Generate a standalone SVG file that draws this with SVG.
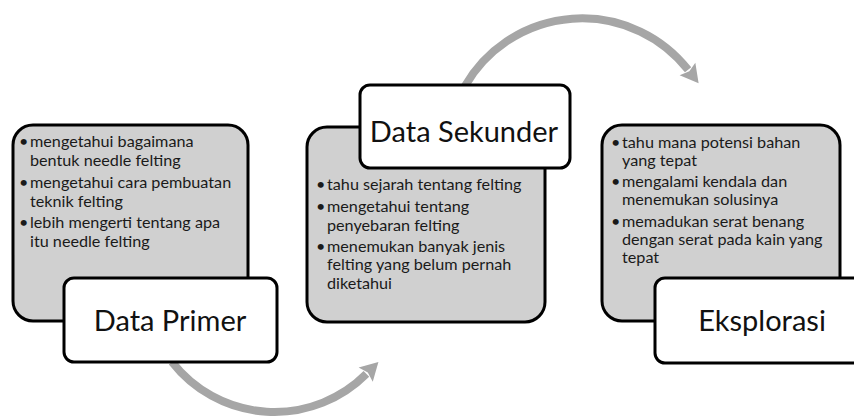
<svg xmlns="http://www.w3.org/2000/svg" width="854" height="416" viewBox="0 0 854 416">
<defs>
<style>
.card{fill:#d0d0d0;stroke:#000;stroke-width:3}
.lbl{fill:#fff;stroke:#000;stroke-width:3}
.t{font-family:Lato,"Liberation Sans",sans-serif;font-size:16.2px;fill:#1a1a1a}
.h{font-family:Lato,"Liberation Sans",sans-serif;font-size:29px;fill:#111;text-anchor:middle}
.arc{fill:none;stroke:#a6a6a6;stroke-width:8}
</style>
<marker id="ah" markerUnits="userSpaceOnUse" markerWidth="24" markerHeight="24" viewBox="-2 -12 22 24" refX="0" refY="0" orient="auto">
<path d="M-1,-10 L17,0 L-1,10 L2,0 Z" fill="#a6a6a6"/>
</marker>
</defs>
<rect width="854" height="416" fill="#fff"/>
<g id="connectors">
<path class="arc" d="M172,362 A130,130 0 0 0 366.4,373.9" marker-end="url(#ah)"/>
<path class="arc" d="M465,86 A135,135 0 0 1 688.1,69.8" marker-end="url(#ah)"/>
</g>
<g id="node-data-primer">
<rect class="card" x="13" y="125" width="235" height="196" rx="20"/>
<text class="t"><tspan x="19" y="147">•</tspan><tspan x="30" y="147">mengetahui bagaimana</tspan><tspan x="30" y="166">bentuk needle felting</tspan><tspan x="19" y="188">•</tspan><tspan x="30" y="188">mengetahui cara pembuatan</tspan><tspan x="30" y="207">teknik felting</tspan><tspan x="19" y="228">•</tspan><tspan x="30" y="228">lebih mengerti tentang apa</tspan><tspan x="30" y="247">itu needle felting</tspan></text>
<rect class="lbl" x="64" y="278" width="213" height="84" rx="10"/>
<text class="h" x="170" y="331">Data Primer</text>
</g>
<g id="node-data-sekunder">
<rect class="card" x="307" y="127" width="238" height="195" rx="20"/>
<text class="t"><tspan x="316" y="190">•</tspan><tspan x="327" y="190">tahu sejarah tentang felting</tspan><tspan x="316" y="212">•</tspan><tspan x="327" y="212">mengetahui tentang</tspan><tspan x="327" y="231">penyebaran felting</tspan><tspan x="316" y="252">•</tspan><tspan x="327" y="252">menemukan  banyak  jenis</tspan><tspan x="327" y="270">felting yang belum pernah</tspan><tspan x="327" y="289">diketahui</tspan></text>
<rect class="lbl" x="360" y="85" width="210" height="83" rx="10"/>
<text class="h" x="464" y="142">Data Sekunder</text>
</g>
<g id="node-eksplorasi">
<rect class="card" x="602" y="125" width="238" height="196" rx="20"/>
<text class="t"><tspan x="611" y="148">•</tspan><tspan x="622" y="148">tahu mana potensi bahan</tspan><tspan x="622" y="166">yang tepat</tspan><tspan x="611" y="187">•</tspan><tspan x="622" y="187">mengalami kendala dan</tspan><tspan x="622" y="205">menemukan solusinya</tspan><tspan x="611" y="227">•</tspan><tspan x="622" y="227">memadukan serat benang</tspan><tspan x="622" y="245">dengan serat pada kain yang</tspan><tspan x="622" y="263">tepat</tspan></text>
<rect class="lbl" x="655" y="278" width="214" height="85" rx="10"/>
<text class="h" x="762" y="331">Eksplorasi</text>
</g>
</svg>
